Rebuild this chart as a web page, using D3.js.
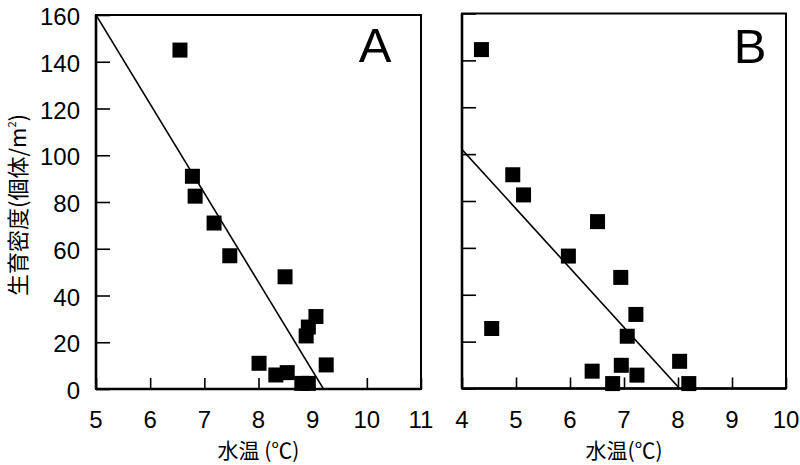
<!DOCTYPE html>
<html>
<head>
<meta charset="utf-8">
<script src="https://cdn.jsdelivr.net/npm/d3@7"></script>
<style>
  html, body { margin: 0; padding: 0; background: #fff; }
  svg { display: block; }
  .num { font-family: "Liberation Sans", Arial, sans-serif; }
  .cjk { font-family: "Noto Sans CJK JP", "Noto Sans CJK SC", sans-serif; }
</style>
</head>
<body>
<svg id="chart" width="800" height="465"></svg>
<script>
// ---- data ----
const yTicks = [0, 20, 40, 60, 80, 100, 120, 140, 160];
const xTicksA = [5, 6, 7, 8, 9, 10, 11];
const xTicksB = [4, 5, 6, 7, 8, 9, 10];

const tempA = [6.55, 6.78, 6.83, 7.18, 7.47, 8.49, 9.06, 8.92, 8.88, 8.01, 8.32, 8.53, 8.80, 8.92, 9.25];
const densA = [145, 91, 82.5, 71, 57, 48, 31, 26.5, 22.7, 11, 6, 7, 2.4, 2.4, 10.3];
const fitA_x = [5, 9.2];
const fitA_y = [160, 0];

const tempB = [4.36, 4.94, 5.14, 5.97, 6.51, 6.94, 7.22, 7.06, 4.55, 6.41, 6.79, 6.95, 7.24, 8.03, 8.20];
const densB = [144.6, 91.2, 82.6, 56.5, 71.2, 47.4, 31.6, 22.3, 25.6, 7.4, 2.1, 9.9, 5.7, 11.6, 2.1];
const fitB_x = [4, 8.03];
const fitB_y = [102, 0];

const panels = [
  { letter: "A", xDomain: [5, 11], xTicks: xTicksA, temp: tempA, dens: densA, fx: fitA_x, fy: fitA_y,
    left: 96, right: 421, top: 15, bottom: 389, yLabels: true, xLabel: "水温 (℃)", letterX: 375, letterY: 62 },
  { letter: "B", xDomain: [4, 10], xTicks: xTicksB, temp: tempB, dens: densB, fx: fitB_x, fy: fitB_y,
    left: 462, right: 786, top: 13.5, bottom: 388.5, yLabels: false, xLabel: "水温(℃)", letterX: 750, letterY: 63 }
];

const svg = d3.select("#chart");

panels.forEach(p => {
  const x = d3.scaleLinear().domain(p.xDomain).range([p.left, p.right]);
  const y = d3.scaleLinear().domain([0, 160]).range([p.bottom, p.top]);
  const g = svg.append("g");

  const clipId = "clip" + p.letter;
  svg.append("clipPath").attr("id", clipId)
    .append("rect").attr("x", p.left).attr("y", p.top)
    .attr("width", p.right - p.left).attr("height", p.bottom - p.top);

  // y axis ticks (inward)
  const yAx = d3.axisRight(y).tickValues(yTicks).tickSize(14).tickFormat("");
  const ya = g.append("g").attr("transform", `translate(${p.left},0)`).call(yAx);
  ya.select(".domain").remove();
  ya.selectAll("line").attr("stroke", "#000").attr("stroke-width", 1.6);

  // x axis ticks (inward)
  const xAx = d3.axisTop(x).tickValues(p.xTicks).tickSize(11).tickFormat("");
  const xa = g.append("g").attr("transform", `translate(0,${p.bottom})`).call(xAx);
  xa.select(".domain").remove();
  xa.selectAll("line").attr("stroke", "#000").attr("stroke-width", 1.6);

  // frame
  g.append("rect").attr("x", p.left).attr("y", p.top)
    .attr("width", p.right - p.left).attr("height", p.bottom - p.top)
    .attr("fill", "none").attr("stroke", "#000").attr("stroke-width", 2);
  g.append("line").attr("x1", p.left).attr("x2", p.left).attr("y1", p.top).attr("y2", p.bottom)
    .attr("stroke", "#000").attr("stroke-width", 2.6);
  g.append("line").attr("x1", p.left).attr("x2", p.right).attr("y1", p.bottom).attr("y2", p.bottom)
    .attr("stroke", "#000").attr("stroke-width", 2.4);

  // x tick labels
  g.append("g").selectAll("text").data(p.xTicks).join("text")
    .attr("class", "num")
    .attr("x", d => x(d)).attr("y", 428)
    .attr("text-anchor", "middle").attr("font-size", 24).attr("fill", "#000")
    .text(d => d);

  // y tick labels
  if (p.yLabels) {
    g.append("g").selectAll("text").data(yTicks).join("text")
      .attr("class", "num")
      .attr("x", 80).attr("y", d => y(d) + 10)
      .attr("text-anchor", "end").attr("font-size", 24).attr("fill", "#000")
      .text(d => d);
  }

  // fit line
  const pts = p.fx.map((v, i) => [x(v), y(p.fy[i])]);
  g.append("path").attr("d", d3.line()(pts))
    .attr("clip-path", `url(#${clipId})`)
    .attr("fill", "none").attr("stroke", "#000").attr("stroke-width", 1.6);

  // points
  const s = 15;
  g.append("g").selectAll("rect").data(p.temp.map((t, i) => [t, p.dens[i]])).join("rect")
    .attr("x", d => x(d[0]) - s / 2).attr("y", d => y(d[1]) - s / 2)
    .attr("width", s).attr("height", s).attr("fill", "#000");

  // panel letter
  g.append("text").attr("class", "num")
    .attr("x", p.letterX).attr("y", p.letterY)
    .attr("text-anchor", "middle").attr("font-size", 49).attr("fill", "#000")
    .text(p.letter);

  // x label
  g.append("text").attr("class", "cjk")
    .attr("x", (p.left + p.right) / 2).attr("y", 458)
    .attr("text-anchor", "middle").attr("font-size", 21).attr("fill", "#000")
    .text(p.xLabel);
});

// y axis label
const yl = svg.append("text").attr("class", "cjk")
  .attr("transform", "translate(26,205) rotate(-90)")
  .attr("text-anchor", "middle").attr("font-size", 22).attr("fill", "#000");
yl.append("tspan").text("生育密度(個体/m");
yl.append("tspan").attr("font-size", 11).attr("dy", -10).text("2");
yl.append("tspan").attr("dy", 10).text(")");
</script>
</body>
</html>
